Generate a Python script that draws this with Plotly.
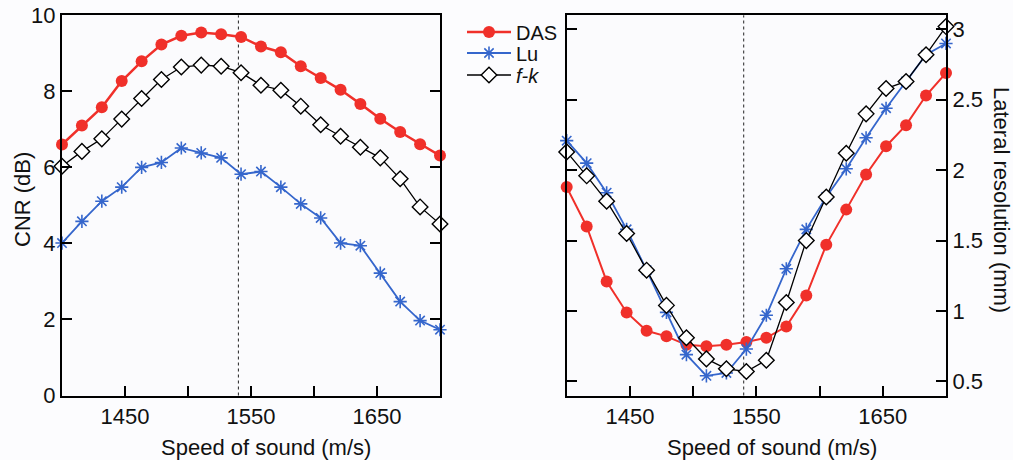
import plotly.graph_objects as go

# Speed of sound sweep (m/s)
speed = [1400.0, 1415.8, 1431.6, 1447.4, 1463.2, 1478.9, 1494.7, 1510.5, 1526.3, 1542.1,
         1557.9, 1573.7, 1589.5, 1605.3, 1621.1, 1636.8, 1652.6, 1668.4, 1684.2, 1700.0]

# CNR (dB)
cnr_das = [6.60, 7.10, 7.58, 8.27, 8.79, 9.23, 9.46, 9.55, 9.50, 9.43,
           9.18, 9.03, 8.66, 8.35, 8.04, 7.67, 7.28, 6.93, 6.61, 6.31]
cnr_lu = [4.01, 4.58, 5.11, 5.48, 6.00, 6.13, 6.51, 6.38, 6.25, 5.82,
          5.89, 5.48, 5.04, 4.67, 4.01, 3.94, 3.22, 2.47, 1.97, 1.73]
cnr_fk = [6.03, 6.42, 6.75, 7.27, 7.81, 8.31, 8.64, 8.69, 8.66, 8.49,
          8.16, 8.03, 7.61, 7.12, 6.82, 6.53, 6.25, 5.70, 4.96, 4.51]

# Lateral resolution (mm)
res_das = [1.88, 1.60, 1.21, 0.99, 0.86, 0.82, 0.76, 0.75, 0.76, 0.78,
           0.81, 0.89, 1.11, 1.47, 1.72, 1.97, 2.17, 2.32, 2.53, 2.69]
res_lu = [2.21, 2.05, 1.84, 1.58, 1.29, 0.99, 0.69, 0.54, 0.56, 0.73,
          0.97, 1.30, 1.58, 1.81, 2.01, 2.23, 2.44, 2.63, 2.82, 2.90]
res_fk = [2.13, 1.96, 1.78, 1.55, 1.29, 1.04, 0.81, 0.66, 0.59, 0.57,
          0.65, 1.06, 1.50, 1.81, 2.12, 2.40, 2.58, 2.63, 2.82, 3.02]

nominal_speed = 1540
x_ticks = [1450, 1500, 1550, 1600, 1650]
x_ticktext = ["1450", "", "1550", "", "1650"]
cnr_ticks = [0, 2, 4, 6, 8, 10]
res_ticks = [0.5, 1, 1.5, 2, 2.5, 3]

W, H = 1013, 460
FONT = "Liberation Sans, Arial, Helvetica, sans-serif"
RED = "#f0302a"
BLUE = "#3566cc"


def style(key, red_width=2.5):
    if key == "DAS":
        return dict(mode="lines+markers", line=dict(color=RED, width=red_width),
                    marker=dict(symbol="circle", size=12, color=RED))
    if key == "Lu":
        return dict(mode="lines+markers", line=dict(color=BLUE, width=1.8),
                    marker=dict(symbol="asterisk-open", size=11,
                                line=dict(color="#2a52c4", width=1.6)))
    return dict(mode="lines+markers", line=dict(color="black", width=1.3),
                marker=dict(symbol="diamond", size=12, color="white",
                            line=dict(color="black", width=1.4)))


names = {"DAS": "DAS", "Lu": "Lu", "fk": "<i>f-k</i>"}
legend_ids = {"DAS": "legend", "Lu": "legend2", "fk": "legend3"}

fig = go.Figure()
for key, y in (("DAS", cnr_das), ("Lu", cnr_lu), ("fk", cnr_fk)):
    fig.add_trace(go.Scatter(x=speed, y=y, name=names[key], xaxis="x", yaxis="y",
                             cliponaxis=False, showlegend=True,
                             legend=legend_ids[key], **style(key)))
for key, y in (("DAS", res_das), ("Lu", res_lu), ("fk", res_fk)):
    fig.add_trace(go.Scatter(x=speed, y=y, name=names[key], xaxis="x2", yaxis="y2",
                             cliponaxis=False, showlegend=False, **style(key, 2.0)))


def px_x(a, b):
    return [a / W, b / W]


def px_y(top, bottom):
    return [1 - bottom / H, 1 - top / H]


axis_common = dict(showline=True, linecolor="black", linewidth=2, ticks="inside",
                   ticklen=10, tickwidth=2, tickcolor="black", showgrid=False,
                   zeroline=False, automargin=False,
                   tickfont=dict(size=22, color="#111", family=FONT))


def legend_at(ycenter):
    return dict(x=462 / W, y=1 - ycenter / H, xanchor="left", yanchor="middle",
                bgcolor="rgba(0,0,0,0)", font=dict(size=20, family=FONT, color="#111"),
                itemwidth=44)


fig.update_layout(
    width=W, height=H,
    margin=dict(l=0, r=0, t=0, b=0),
    paper_bgcolor="#fcfcfe", plot_bgcolor="#fbfbfd",
    font=dict(family=FONT, size=20, color="#111"),
    xaxis=dict(domain=px_x(62, 440), range=[1400, 1700], tickvals=x_ticks,
               ticktext=x_ticktext, mirror=True, anchor="y", **axis_common),
    yaxis=dict(domain=px_y(15.3, 395.5), range=[0, 10], tickvals=cnr_ticks,
               mirror="ticks", anchor="x", side="left", **axis_common),
    xaxis2=dict(domain=px_x(566.7, 946), range=[1400, 1700], tickvals=x_ticks,
                ticktext=x_ticktext, mirror=True, anchor="y2", **axis_common),
    yaxis2=dict(domain=px_y(15.3, 395.5), range=[0.4, 3.1], tickvals=res_ticks,
                mirror="ticks", anchor="x2", side="right", **axis_common),
    legend=legend_at(32),
    legend2=legend_at(53),
    legend3=legend_at(75),
    showlegend=True,
)

# nominal speed of sound markers
for xr, yr in (("x", "y"), ("x2", "y2")):
    fig.add_shape(type="line", xref=xr, yref=f"{yr} domain", x0=nominal_speed,
                  x1=nominal_speed, y0=0, y1=1,
                  line=dict(color="#222", width=1, dash="dot"), layer="below")

# axis titles
title_font = dict(size=22, family=FONT, color="#111")
common_ann = dict(xref="paper", yref="paper", showarrow=False, font=title_font,
                  xanchor="center", yanchor="middle")
fig.add_annotation(text="Speed of sound (m/s)", x=266 / W, y=1 - 447 / H, **common_ann)
fig.add_annotation(text="Speed of sound (m/s)", x=772 / W, y=1 - 447 / H, **common_ann)
fig.add_annotation(text="CNR (dB)", textangle=-90, x=23 / W, y=1 - 200 / H, **common_ann)
fig.add_annotation(text="Lateral resolution (mm)", textangle=90, x=1001 / W,
                   y=1 - 200 / H, **common_ann)

fig.write_html("out.html")
